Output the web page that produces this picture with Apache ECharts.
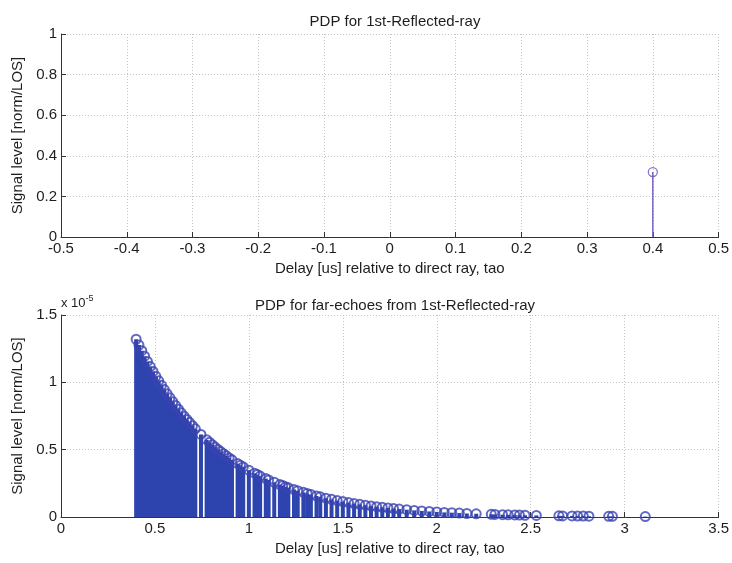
<!DOCTYPE html>
<html>
<head>
<meta charset="utf-8">
<script src="https://cdn.jsdelivr.net/npm/echarts@6/dist/echarts.min.js"></script>
<style>
html,body{margin:0;padding:0;background:#ffffff;}
#chart{width:732px;height:563px;}
</style>
</head>
<body>
<div id="chart"></div>
<script>
// ---- data ----
const topTitle = 'PDP for 1st-Reflected-ray';
const bottomTitle = 'PDP for far-echoes from 1st-Reflected-ray';
const xName = 'Delay [us] relative to direct ray, tao';
const yName = 'Signal level [norm/LOS]';
const topTicksX = [-0.5, -0.4, -0.3, -0.2, -0.1, 0, 0.1, 0.2, 0.3, 0.4, 0.5];
const topTicksY = [0, 0.2, 0.4, 0.6, 0.8, 1];
const bottomTicksX = [0, 0.5, 1, 1.5, 2, 2.5, 3, 3.5];
const bottomTicksY = [0, 0.5, 1, 1.5]; // x 10^-5

const topDelay = [0.4];
const topLevel = [0.32];

// far echoes, level in units of 1e-5
const farDelay = [
  0.400, 0.415, 0.430, 0.445, 0.460, 0.475, 0.490, 0.505, 0.520, 0.535,
  0.550, 0.565, 0.580, 0.595, 0.610, 0.625, 0.640, 0.655, 0.670, 0.685,
  0.700, 0.715, 0.745, 0.775, 0.790, 0.805, 0.820, 0.835, 0.850, 0.865,
  0.880, 0.895, 0.910, 0.940, 0.955, 0.970, 1.000, 1.030, 1.045, 1.060,
  1.090, 1.105, 1.135, 1.165, 1.180, 1.195, 1.210,
  1.24, 1.26, 1.29, 1.31, 1.33, 1.36, 1.38, 1.41, 1.44, 1.47,
  1.50, 1.53, 1.56, 1.59, 1.62, 1.65, 1.68, 1.71, 1.74, 1.77,
  1.80, 1.84, 1.88, 1.92, 1.96, 2.00, 2.04, 2.08, 2.12, 2.16,
  2.21, 2.29, 2.31, 2.35, 2.38, 2.415, 2.44, 2.47, 2.53, 2.65,
  2.67, 2.72, 2.75, 2.78, 2.81, 2.915, 2.935, 3.11
];
const farLevel = [
  1.320, 1.277, 1.235, 1.194, 1.155, 1.117, 1.081, 1.045, 1.011, 0.978,
  0.946, 0.915, 0.885, 0.856, 0.828, 0.801, 0.774, 0.749, 0.724, 0.701,
  0.678, 0.655, 0.613, 0.574, 0.555, 0.537, 0.519, 0.502, 0.486, 0.470,
  0.454, 0.439, 0.425, 0.397, 0.384, 0.372, 0.348, 0.325, 0.315, 0.304,
  0.285, 0.275, 0.258, 0.241, 0.233, 0.225, 0.218,
  0.204, 0.195, 0.183, 0.175, 0.167, 0.156, 0.150, 0.140, 0.131, 0.122,
  0.115, 0.107, 0.100, 0.094, 0.088, 0.082, 0.077, 0.072, 0.067, 0.063,
  0.059, 0.054, 0.049, 0.045, 0.041, 0.038, 0.034, 0.032, 0.029, 0.026,
  0.024, 0.020, 0.019, 0.017, 0.016, 0.015, 0.014, 0.013, 0.012, 0.009,
  0.008, 0.008, 0.007, 0.007, 0.006, 0.005, 0.005, 0.003
];

// ---- chart ----
const FONT = '"Liberation Sans", Arial, sans-serif';
const textColor = '#1e1e1e';
const chart = echarts.init(document.getElementById('chart'), null, {renderer: 'canvas'});

function stemRenderer(color, width) {
  return function (params, api) {
    const x = api.value(0), y = api.value(1);
    const p1 = api.coord([x, 0]);
    const p2 = api.coord([x, y]);
    return {
      type: 'line',
      shape: {x1: p1[0], y1: p1[1], x2: p2[0], y2: p2[1]},
      style: {stroke: color, lineWidth: width, lineCap: 'butt'}
    };
  };
}

const topData = topDelay.map((d, i) => [d, topLevel[i]]);
const farData = farDelay.map((d, i) => [d, farLevel[i]]);

function xAxisCfg(gridIndex, ticks) {
  return {
    type: 'value', gridIndex: gridIndex,
    min: ticks[0], max: ticks[ticks.length - 1],
    interval: ticks[1] - ticks[0],
    name: xName, nameLocation: 'middle', nameGap: 24,
    nameTextStyle: {fontFamily: FONT, fontSize: 15, color: textColor},
    axisLine: {show: true, onZero: false, lineStyle: {color: '#333', width: 1}},
    axisTick: {show: true, inside: true, length: 5, lineStyle: {color: '#333'}},
    axisLabel: {fontFamily: FONT, fontSize: 15, color: textColor, margin: 4,
      formatter: v => String(Math.round(v * 10) / 10)},
    splitLine: {show: true, lineStyle: {color: '#c4c4c4', type: [1, 2], width: 1}}
  };
}
function yAxisCfg(gridIndex, ticks) {
  return {
    type: 'value', gridIndex: gridIndex,
    min: ticks[0], max: ticks[ticks.length - 1],
    interval: ticks[1] - ticks[0],
    name: yName, nameLocation: 'middle', nameGap: 34,
    nameTextStyle: {fontFamily: FONT, fontSize: 15, color: textColor},
    axisLine: {show: true, onZero: false, lineStyle: {color: '#333', width: 1}},
    axisTick: {show: true, inside: true, length: 5, lineStyle: {color: '#333'}},
    axisLabel: {fontFamily: FONT, fontSize: 15, color: textColor, margin: 4,
      formatter: v => String(Math.round(v * 10) / 10)},
    splitLine: {show: true, lineStyle: {color: '#c4c4c4', type: [1, 2], width: 1}}
  };
}

const option = {
  backgroundColor: '#ffffff',
  animation: false,
  title: [
    {text: topTitle, left: 390, top: 9, textAlign: 'center',
      textStyle: {fontFamily: FONT, fontSize: 15, fontWeight: 'normal', color: textColor}},
    {text: bottomTitle, left: 390, top: 293, textAlign: 'center',
      textStyle: {fontFamily: FONT, fontSize: 15, fontWeight: 'normal', color: textColor}}
  ],
  grid: [
    {left: 61, right: 13, top: 34, height: 203},
    {left: 61, right: 13, top: 315, height: 202}
  ],
  xAxis: [xAxisCfg(0, topTicksX), xAxisCfg(1, bottomTicksX)],
  yAxis: [yAxisCfg(0, topTicksY), yAxisCfg(1, bottomTicksY)],
  graphic: [
    {type: 'text', left: 61, top: 294, silent: true,
      style: {text: 'x 10{s|-5}', fontFamily: FONT, fontSize: 13, fill: textColor,
        rich: {s: {fontFamily: FONT, fontSize: 9, fill: textColor, verticalAlign: 'top', padding: [0, 0, 9, 0]}}}}
  ],
  series: [
    {type: 'custom', xAxisIndex: 0, yAxisIndex: 0, data: topData,
      renderItem: stemRenderer('#7a63c8', 1.5), clip: true, z: 2},
    {type: 'scatter', xAxisIndex: 0, yAxisIndex: 0, data: topData,
      symbol: 'circle', symbolSize: 9,
      itemStyle: {color: 'rgba(0,0,0,0)', borderColor: '#7050b8', borderWidth: 1.3}, z: 3},
    {type: 'custom', xAxisIndex: 1, yAxisIndex: 1, data: farData,
      renderItem: stemRenderer('#2d43ad', 4), clip: true, z: 2},
    {type: 'scatter', xAxisIndex: 1, yAxisIndex: 1, data: farData,
      symbol: 'circle', symbolSize: 9,
      itemStyle: {color: 'rgba(0,0,0,0)', borderColor: '#3a44b0', borderWidth: 2}, z: 3}
  ]
};
chart.setOption(option);
</script>
</body>
</html>
